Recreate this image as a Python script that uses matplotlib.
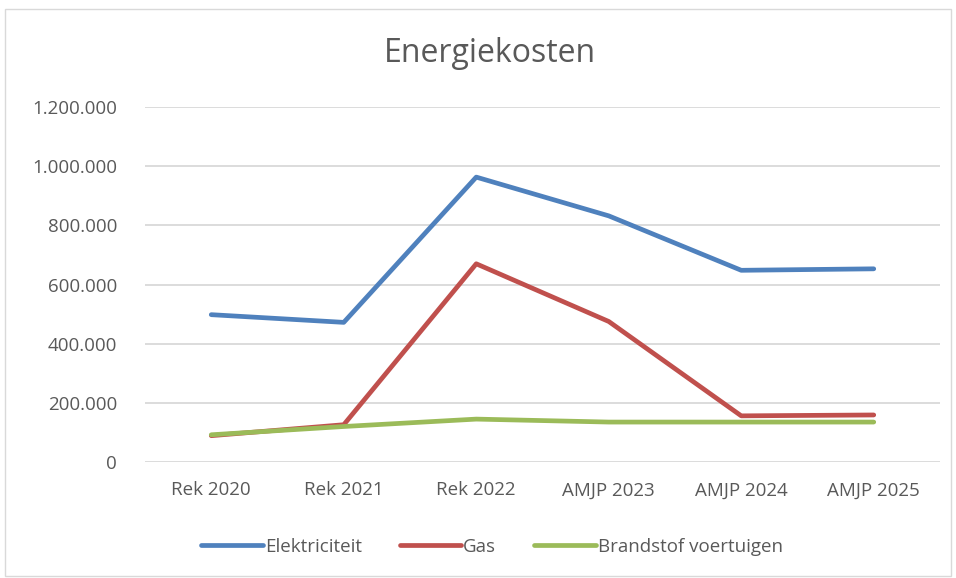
import matplotlib
matplotlib.use('Agg')
import matplotlib.pyplot as plt
from matplotlib.patches import Rectangle
from matplotlib.ticker import FuncFormatter

categories = ['Rek 2020', 'Rek 2021', 'Rek 2022', 'AMJP 2023', 'AMJP 2024', 'AMJP 2025']
elektriciteit = [498000, 472000, 963000, 832000, 648000, 653000]
gas = [89000, 126000, 670000, 475000, 156000, 159000]
brandstof = [92000, 120000, 145000, 135000, 135000, 135000]
y_ticks = [0, 200000, 400000, 600000, 800000, 1000000, 1200000]

plt.rcParams['font.family'] = ['Open Sans', 'DejaVu Sans']
text_col = '#595959'

fig = plt.figure(figsize=(9.56, 5.78), dpi=100)
ax = fig.add_axes([145 / 956, 1 - 462 / 578, 795 / 956, 355 / 578])

x = range(len(categories))
ax.plot(x, elektriciteit, color='#4F81BD', lw=3.4, solid_capstyle='round', label='Elektriciteit')
ax.plot(x, gas, color='#C0504D', lw=3.4, solid_capstyle='round', label='Gas')
ax.plot(x, brandstof, color='#9BBB59', lw=3.4, solid_capstyle='round', label='Brandstof voertuigen')

ax.set_xlim(-0.5, len(categories) - 0.5)
ax.set_ylim(0, 1200000)
ax.set_yticks(y_ticks)
ax.yaxis.set_major_formatter(FuncFormatter(lambda v, p: f'{int(v):,}'.replace(',', '.')))
ax.set_xticks(list(x))
ax.set_xticklabels(categories)
ax.grid(axis='y', color='#D9D9D9', lw=1.3)
ax.set_axisbelow(True)
for s in ax.spines.values():
    s.set_visible(False)
ax.tick_params(length=0, labelsize=13.5, colors=text_col)
ax.tick_params(axis='y', pad=20)
ax.tick_params(axis='x', pad=14)

fig.text(490 / 956, 1 - 53 / 578, 'Energiekosten', ha='center', va='center', fontsize=23, color=text_col)

fig.legend(loc='center', bbox_to_anchor=(492 / 956, 1 - 547 / 578), ncol=3, frameon=False,
           fontsize=13.5, labelcolor=text_col, handlelength=3.3, handletextpad=0.1, columnspacing=2.0)

fig.patches.append(Rectangle((5 / 956, 2 / 578), 946 / 956, 567 / 578, transform=fig.transFigure,
                             fill=False, edgecolor='#D9D9D9', lw=1))

fig.savefig('out.png', dpi=100)
